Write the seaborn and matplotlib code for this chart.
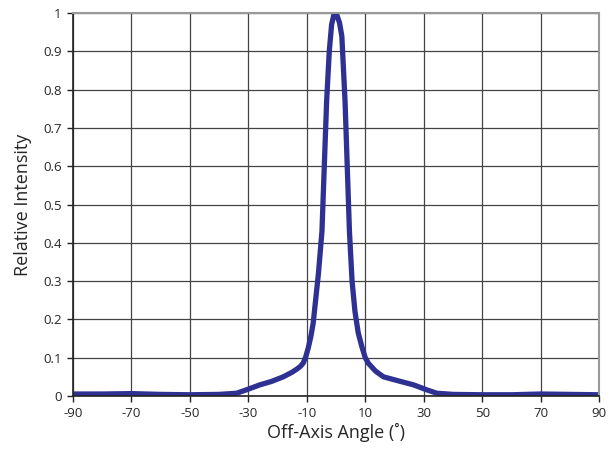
import numpy as np
import pandas as pd
import matplotlib
matplotlib.use("Agg")
import matplotlib.pyplot as plt
import seaborn as sns
from matplotlib.ticker import FuncFormatter

# Values
angle = [-90, -80, -70, -60, -50, -40, -34, -30.6, -26, -22, -18, -15, -13.4, -12.2,
         -11.2, -10.3, -9.5, -8.6, -7.8, -6.0, -4.8, -3.2, -2.3, -1.5, -0.6, 0.3,
         1.2, 2.0, 3.1, 4.6, 5.5, 6.5, 7.6, 8.8, 10, 11.1, 13.5, 16.2, 21, 26.5,
         31.0, 34.5, 40, 50, 60, 70, 80, 90]
intensity = [0.005, 0.005, 0.006, 0.004, 0.003, 0.004, 0.007, 0.016, 0.029, 0.038,
             0.05, 0.062, 0.07, 0.077, 0.086, 0.103, 0.125, 0.155, 0.19, 0.32, 0.43,
             0.77, 0.9, 0.97, 1.0, 0.995, 0.975, 0.94, 0.77, 0.43, 0.3, 0.22, 0.165,
             0.13, 0.1, 0.085, 0.065, 0.05, 0.04, 0.029, 0.016, 0.007, 0.004, 0.003,
             0.003, 0.005, 0.004, 0.003]

xticks = list(range(-90, 91, 20))
yticks = [round(v * 0.1, 1) for v in range(11)]

df = pd.DataFrame({"angle": angle, "intensity": intensity})

sns.set_style("white")
plt.rcParams["font.family"] = ["Open Sans", "DejaVu Sans"]
plt.rcParams["axes.unicode_minus"] = False

fig = plt.figure(figsize=(6.12, 4.53), dpi=100)
ax = fig.add_axes([0.119, 0.126, 0.86, 0.845])

sns.lineplot(data=df, x="angle", y="intensity", ax=ax, color="#2E3192",
             linewidth=3.8, solid_capstyle="round", solid_joinstyle="round")

ax.set_xlim(-90, 90)
ax.set_ylim(0, 1)
ax.set_xticks(xticks)
ax.set_yticks(yticks)
ax.xaxis.set_major_formatter(FuncFormatter(lambda v, p: "%d" % v))
ax.yaxis.set_major_formatter(FuncFormatter(lambda v, p: "%g" % v))
ax.grid(True, color="#444444", linewidth=0.9)
ax.set_axisbelow(True)

for side in ["top", "right"]:
    ax.spines[side].set_color("#999999")
    ax.spines[side].set_linewidth(1.5)
for side in ["left", "bottom"]:
    ax.spines[side].set_color("#222222")
    ax.spines[side].set_linewidth(1.2)

ax.tick_params(axis="both", which="major", direction="out", length=4, width=1,
               color="#222222", labelsize=9.5, pad=4, left=True, bottom=True)

ax.set_xlabel("Off-Axis Angle (˚)", fontsize=13, labelpad=2)
ax.set_ylabel("Relative Intensity", fontsize=13, labelpad=8)

fig.savefig("out.png", dpi=100)
